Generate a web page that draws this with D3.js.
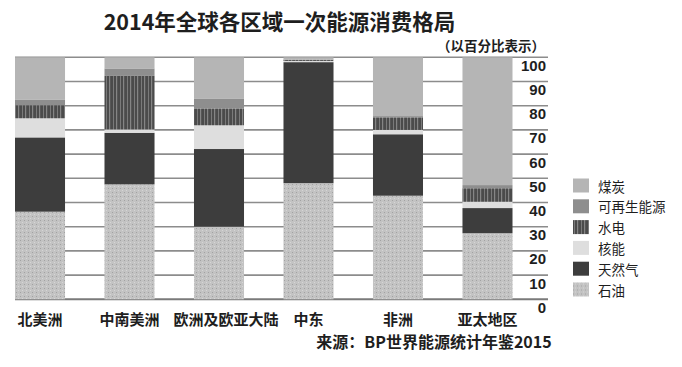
<!DOCTYPE html>
<html><head><meta charset="utf-8">
<script src="https://cdn.jsdelivr.net/npm/d3@7"></script>
<style>
html,body{margin:0;padding:0;background:#fff;}
svg{display:block;}
text{font-family:"Noto Sans CJK SC","Liberation Sans",sans-serif;fill:#1e1e1e;}
</style></head>
<body>
<script>
const categories = ["北美洲","中南美洲","欧洲及欧亚大陆","中东","非洲","亚太地区"];
const seriesNames = ["石油","天然气","核能","水电","可再生能源","煤炭"];
const oil        = [36.2, 47.5, 30.0, 48.0, 42.8, 27.3];
const gas        = [30.7, 21.3, 32.1, 50.0, 25.4, 10.4];
const nuclear    = [7.9,  1.4,  9.8,  0.5,  1.8,  2.6];
const hydro      = [5.4,  22.1, 7.0,  0.5,  5.2,  5.6];
const renewables = [2.2,  3.1,  3.9,  0.1,  0.5,  1.3];
const coal       = [17.6, 4.6,  17.2, 0.9,  24.3, 52.8];
const yTicks = [0,10,20,30,40,50,60,70,80,90,100];
const legendOrder = ["煤炭","可再生能源","水电","核能","天然气","石油"];

const W = 682, H = 367;
const svg = d3.select("body").append("svg").attr("width", W).attr("height", H);
const defs = svg.append("defs");

// patterns
const pOil = defs.append("pattern").attr("id","pOil").attr("patternUnits","userSpaceOnUse").attr("width",4).attr("height",4);
pOil.append("rect").attr("width",4).attr("height",4).attr("fill","#c3c3c3");
pOil.append("rect").attr("x",0).attr("y",0).attr("width",1).attr("height",1).attr("fill","#a2a2a2");
pOil.append("rect").attr("x",2).attr("y",2).attr("width",1).attr("height",1).attr("fill","#d6d6d6");
const pHydro = defs.append("pattern").attr("id","pHydro").attr("patternUnits","userSpaceOnUse").attr("width",7).attr("height",10);
pHydro.append("rect").attr("width",7).attr("height",10).attr("fill","#4b4b4b");
pHydro.append("rect").attr("x",1).attr("width",1).attr("height",10).attr("fill","#7a7a7a");
pHydro.append("rect").attr("x",4).attr("width",1.2).attr("height",10).attr("fill","#858585");

const fills = {
  "石油":"url(#pOil)",
  "天然气":"#3d3d3d",
  "核能":"#dedede",
  "水电":"url(#pHydro)",
  "可再生能源":"#8e8e8e",
  "煤炭":"#b5b5b5"
};

const seriesArrays = {"石油":oil,"天然气":gas,"核能":nuclear,"水电":hydro,"可再生能源":renewables,"煤炭":coal};
const table = categories.map((c,i)=>{
  const o = {cat:c};
  seriesNames.forEach(s=> o[s] = seriesArrays[s][i]);
  return o;
});

const x = d3.scaleBand().domain(categories).range([15, 512.5]).paddingInner(0.441).paddingOuter(0);
const y = d3.scaleLinear().domain([0,100]).range([299.3, 57.3]);

// gridlines
svg.append("g").selectAll("line").data(yTicks).join("line")
  .attr("x1",15).attr("x2",548)
  .attr("y1",d=>y(d)).attr("y2",d=>y(d))
  .attr("stroke",d=> d===0 ? "#7a7a7a" : "#8c8c8c")
  .attr("stroke-width",d=> d===0 ? 2 : 1.6);

// y tick labels
svg.append("g").selectAll("text").data(yTicks).join("text")
  .attr("x",546).attr("y",d=>y(d)+8)
  .attr("text-anchor","end").attr("dominant-baseline","central")
  .style("font-family","'Liberation Sans',Arial,sans-serif")
  .style("font-weight","bold").style("font-size","15px")
  .text(d=>d);

// bars
const stack = d3.stack().keys(seriesNames)(table);
svg.append("g").selectAll("g").data(stack).join("g")
  .attr("fill",d=>fills[d.key])
  .selectAll("rect").data(d=>d).join("rect")
  .attr("x",d=>x(d.data.cat))
  .attr("width",x.bandwidth())
  .attr("y",d=>y(d[1]))
  .attr("height",d=>Math.max(0,y(d[0])-y(d[1])));

// x labels
svg.append("g").selectAll("text").data(categories).join("text")
  .attr("x",(d,i)=> i===2 ? x(d)+x.bandwidth()/2+7 : x(d)+x.bandwidth()/2)
  .attr("y",318)
  .attr("text-anchor","middle").attr("dominant-baseline","central")
  .style("font-weight","bold").style("font-size","15px")
  .text(d=>d);

// title
svg.append("text").attr("x",279.5).attr("y",20.5)
  .attr("text-anchor","middle").attr("dominant-baseline","central")
  .style("font-weight","bold").style("font-size","21.5px")
  .text("2014年全球各区域一次能源消费格局");
svg.append("text").attr("x",491).attr("y",45)
  .attr("text-anchor","middle").attr("dominant-baseline","central")
  .style("font-weight","bold").style("font-size","13.5px")
  .text("（以百分比表示）");

// source
svg.append("text").attr("x",434).attr("y",341)
  .attr("text-anchor","middle").attr("dominant-baseline","central")
  .style("font-weight","bold").style("font-size","16px")
  .text("来源：BP世界能源统计年鉴2015");

// legend
const lg = svg.append("g").selectAll("g").data(legendOrder).join("g")
  .attr("transform",(d,i)=>`translate(573,${185.5 + i*20.8})`);
lg.append("rect").attr("x",0).attr("y",-7).attr("width",16).attr("height",14).attr("fill",d=>fills[d]);
lg.append("text").attr("x",25).attr("y",0).attr("dominant-baseline","central")
  .style("font-size","13.5px").text(d=>d);
</script>
</body></html>
